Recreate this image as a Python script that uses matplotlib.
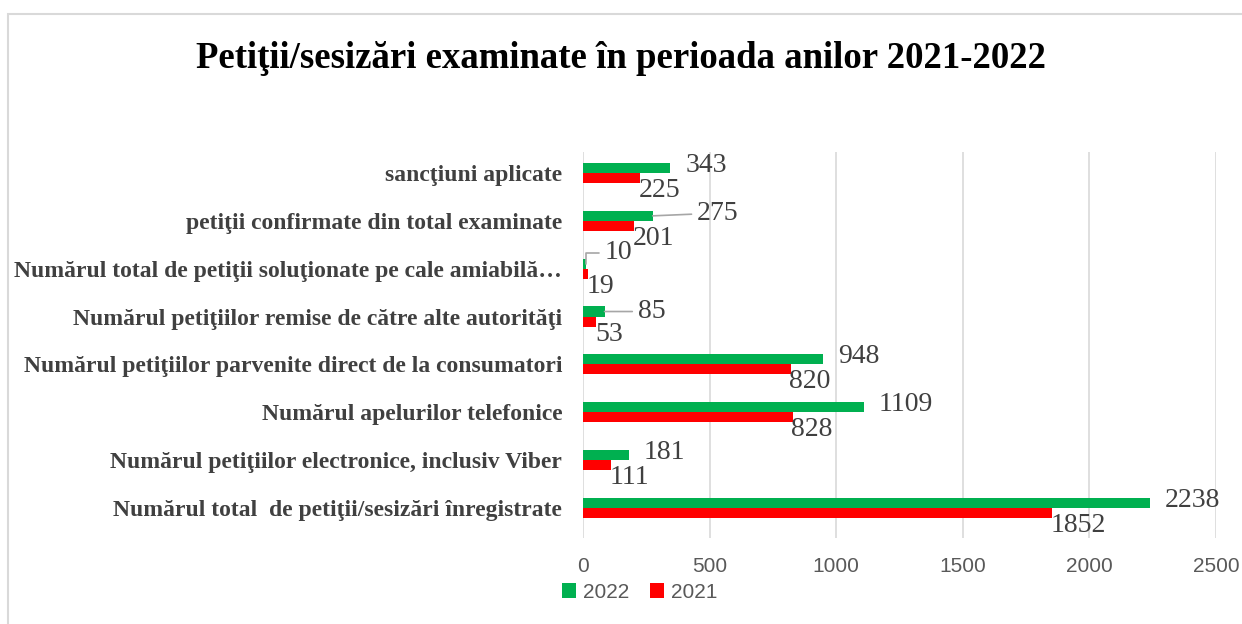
import matplotlib.pyplot as plt
from matplotlib.patches import Rectangle

# categorii (de jos in sus)
categorii = [
    'Numărul total  de petiţii/sesizări înregistrate',
    'Numărul petiţiilor electronice, inclusiv Viber',
    'Numărul apelurilor telefonice',
    'Numărul petiţiilor parvenite direct de la consumatori',
    'Numărul petiţiilor remise de către alte autorităţi',
    'Numărul total de petiţii soluţionate pe cale amiabilă…',
    'petiţii confirmate din total examinate',
    'sancţiuni aplicate',
]
v2022 = [2238, 181, 1109, 948, 85, 10, 275, 343]
v2021 = [1852, 111, 828, 820, 53, 19, 201, 225]
ani = ['2022', '2021']
xticks = [0, 500, 1000, 1500, 2000, 2500]

verde = '#00b050'
rosu = '#ff0000'
gri = '#595959'
text_gri = '#404040'
serif = ['Liberation Serif', 'DejaVu Serif']
narrow = ['Liberation Sans Narrow', 'Liberation Sans', 'DejaVu Sans']

fig = plt.figure(figsize=(12.42, 6.24), dpi=100)
# chenarul graficului
fig.patches.append(Rectangle((8 / 1242, -0.1), 1.2, (624 - 14) / 624 + 0.1,
                             transform=fig.transFigure, fill=False,
                             edgecolor='#d9d9d9', linewidth=1.5))

ax = fig.add_axes([583 / 1242, 1 - 538 / 624, (1216 - 583) / 1242, (538 - 152) / 624])

y = list(range(len(categorii)))
h = 0.21
ax.barh([i + h / 2 for i in y], v2022, height=h, color=verde, label=ani[0], zorder=3)
ax.barh([i - h / 2 for i in y], v2021, height=h, color=rosu, label=ani[1], zorder=3)

ax.set_xlim(0, 2500)
ax.set_ylim(-0.63, 7.44)
ax.set_xticks(xticks)
ax.set_xticklabels([str(t) for t in xticks], family=narrow, fontsize=15, color=gri)
ax.set_yticks(y)
ax.set_yticklabels(categorii, family=serif, fontweight='bold', fontsize=17, color=text_gri)
ax.tick_params(axis='both', length=0)
ax.tick_params(axis='x', pad=14)
ax.tick_params(axis='y', pad=15)
ax.grid(axis='x', color='#d9d9d9', linewidth=1.2, zorder=0)
for s in ax.spines.values():
    s.set_visible(False)

# etichete de date (unele cu linie de legatura)
lider = {6: (32, 2), 4: (24, 0), 5: (14, 8)}
for i in y:
    if i in lider:
        conn = 'angle,angleA=0,angleB=90,rad=0' if i == 5 else 'arc3'
        ax.annotate(str(v2022[i]), xy=(v2022[i], i + h / 2), xytext=lider[i], textcoords='offset points',
                    family=serif, fontsize=20, color=text_gri, va='center', ha='left',
                    arrowprops=dict(arrowstyle='-', color='#a6a6a6', lw=1.2, shrinkA=2, shrinkB=0,
                                    connectionstyle=conn))
    else:
        ax.annotate(str(v2022[i]), xy=(v2022[i], i + h / 2), xytext=(11, 2), textcoords='offset points',
                    family=serif, fontsize=20, color=text_gri, va='center', ha='left')
    ax.annotate(str(v2021[i]), xy=(v2021[i], i - h / 2), xytext=(-1, -9), textcoords='offset points',
                family=serif, fontsize=20, color=text_gri, va='center', ha='left')

fig.text(0.5, 1 - 58 / 624, 'Petiţii/sesizări examinate în perioada anilor 2021-2022',
         ha='center', va='center', family=serif, fontweight='bold', fontsize=26.5, color='black')

leg = ax.legend(loc='center left', bbox_to_anchor=(543 / 1242, 1 - 592 / 624), bbox_transform=fig.transFigure,
                ncol=2, frameon=False, prop={'family': narrow, 'size': 15}, handlelength=0.7,
                handleheight=0.7, handletextpad=0.3, columnspacing=1.0)
for t in leg.get_texts():
    t.set_color(gri)

fig.savefig('out.png', dpi=100)
